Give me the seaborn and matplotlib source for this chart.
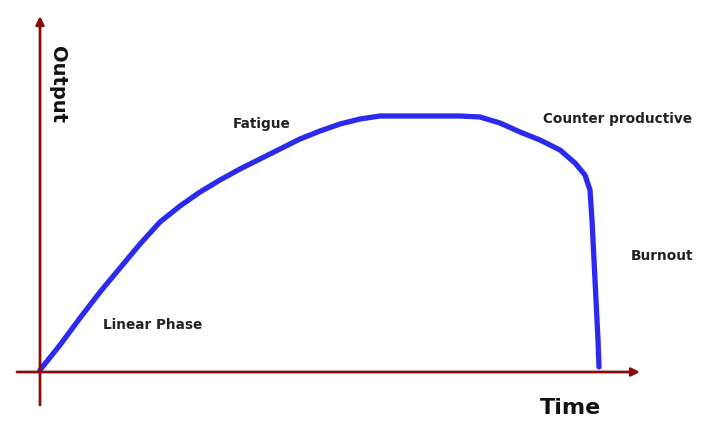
import numpy as np
import pandas as pd
import matplotlib
matplotlib.use('Agg')
import matplotlib.pyplot as plt
import seaborn as sns

# curve (time, output)
time = [0, 20, 40, 60, 80, 100, 120, 140, 160, 180, 200, 220, 240, 260, 280, 300,
        320, 340, 360, 380, 400, 420, 440, 460, 480, 500, 520, 535, 545, 550, 552,
        554, 556, 558, 559]
output = [2, 27, 54, 80, 104, 128, 150, 166, 180, 192, 203, 213, 223, 233, 241, 248,
          253, 256, 256, 256, 256, 256, 255, 249, 240, 232, 222, 209, 197, 182, 152,
          112, 72, 32, 5]

phase_labels = ['Linear Phase', 'Fatigue', 'Counter productive', 'Burnout']
phase_x = [63, 193, 503, 591]
phase_y = [47, 248, 253, 116]

df = pd.DataFrame({'time': time, 'output': output})

sns.set_style('white')
plt.rcParams['font.family'] = ['DejaVu Sans']

fig = plt.figure(figsize=(7.2, 4.46), dpi=100)
ax = fig.add_axes([0, 0, 1, 1])

axis_col = '#8b0a0a'
# axes with arrows
ax.annotate('', xy=(600, 0), xytext=(-23, 0),
            arrowprops=dict(arrowstyle='-|>', color=axis_col, lw=2,
                            mutation_scale=12, shrinkA=0, shrinkB=0))
ax.annotate('', xy=(0, 356), xytext=(0, -33),
            arrowprops=dict(arrowstyle='-|>', color=axis_col, lw=2,
                            mutation_scale=12, shrinkA=0, shrinkB=0))

sns.lineplot(data=df, x='time', y='output', ax=ax, color='#2b2bee',
             linewidth=3.8, sort=False, solid_capstyle='round')

for lab, x, y in zip(phase_labels, phase_x, phase_y):
    ax.text(x, y, lab, fontsize=9.8, fontweight='semibold', color='#222222',
            ha='left', va='center')

ax.text(17, 287, 'Output', rotation=-90, fontsize=14, fontweight='semibold',
        color='#111111', ha='center', va='center')
ax.text(530, -36, 'Time', fontsize=16, fontweight='semibold', color='#111111',
        ha='center', va='center')

ax.set_xlim(-40, 680)
ax.set_ylim(-74, 372)
ax.axis('off')

fig.savefig('out.png', dpi=100)
